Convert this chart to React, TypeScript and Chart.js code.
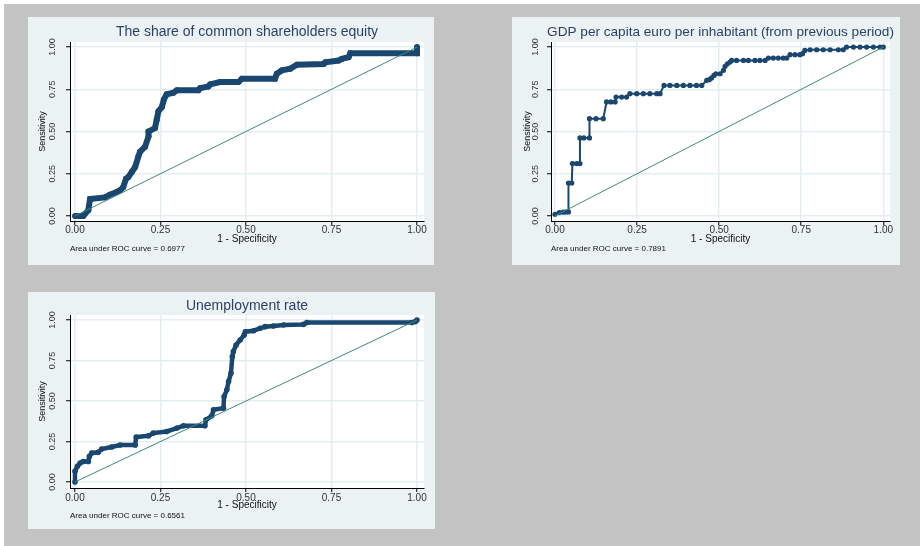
import React, { useEffect, useRef } from 'react';
import { Chart, registerables } from 'chart.js';

Chart.register(...registerables);

const FONT = '"Liberation Sans", Arial, Helvetica, sans-serif';

const TICK_VALUES = [0, 0.25, 0.5, 0.75, 1];
const TICK_LABELS = ['0.00', '0.25', '0.50', '0.75', '1.00'];
const X_TITLE = '1 - Specificity';
const Y_TITLE = 'Sensitivity';
const REF_LINE = [0, 1];

const TITLES = [
  'The share of common shareholders equity',
  'GDP per capita euro per inhabitant (from previous period)',
  'Unemployment rate',
];
const AUC_VALUES = ['0.6977', '0.7891', '0.6561'];

const EQUITY_FPR = [0, 0.024, 0.039, 0.044, 0.088, 0.102, 0.122, 0.132, 0.141, 0.149, 0.156, 0.166, 0.176, 0.185, 0.19, 0.205, 0.215, 0.215, 0.234, 0.239, 0.244, 0.254, 0.26, 0.268, 0.288, 0.298, 0.361, 0.366, 0.39, 0.395, 0.424, 0.478, 0.488, 0.585, 0.59, 0.605, 0.63, 0.649, 0.727, 0.732, 0.771, 0.78, 0.8, 0.805, 1.0, 1.0];
const EQUITY_TPR = [0, 0, 0.034, 0.1, 0.11, 0.126, 0.142, 0.152, 0.17, 0.22, 0.23, 0.26, 0.29, 0.35, 0.38, 0.41, 0.47, 0.5, 0.52, 0.57, 0.62, 0.645, 0.69, 0.72, 0.73, 0.744, 0.744, 0.757, 0.767, 0.779, 0.793, 0.793, 0.813, 0.813, 0.842, 0.862, 0.872, 0.895, 0.9, 0.91, 0.92, 0.93, 0.94, 0.964, 0.964, 1.0];

const GDP_FPR = [0, 0.013, 0.025, 0.034, 0.041, 0.041, 0.051, 0.053, 0.066, 0.076, 0.076, 0.088, 0.105, 0.105, 0.125, 0.147, 0.157, 0.17, 0.183, 0.186, 0.203, 0.218, 0.228, 0.249, 0.269, 0.289, 0.31, 0.32, 0.332, 0.35, 0.371, 0.391, 0.411, 0.431, 0.447, 0.462, 0.47, 0.477, 0.484, 0.49, 0.503, 0.513, 0.518, 0.525, 0.533, 0.538, 0.553, 0.574, 0.589, 0.609, 0.624, 0.64, 0.65, 0.665, 0.68, 0.695, 0.706, 0.716, 0.731, 0.746, 0.754, 0.761, 0.777, 0.797, 0.817, 0.838, 0.863, 0.878, 0.888, 0.909, 0.929, 0.949, 0.97, 0.99, 1.0];
const GDP_TPR = [0.01, 0.02, 0.022, 0.024, 0.024, 0.195, 0.195, 0.31, 0.31, 0.31, 0.462, 0.462, 0.462, 0.576, 0.576, 0.576, 0.675, 0.675, 0.675, 0.704, 0.704, 0.704, 0.724, 0.724, 0.724, 0.724, 0.724, 0.724, 0.773, 0.773, 0.773, 0.773, 0.773, 0.773, 0.773, 0.803, 0.807, 0.817, 0.832, 0.842, 0.842, 0.862, 0.886, 0.901, 0.911, 0.921, 0.921, 0.921, 0.921, 0.921, 0.921, 0.921, 0.935, 0.935, 0.935, 0.935, 0.935, 0.955, 0.955, 0.955, 0.961, 0.98, 0.984, 0.984, 0.984, 0.984, 0.984, 0.984, 1.0, 1.0, 1.0, 1.0, 1.0, 1.0, 1.0];

const UNEMP_FPR = [0, 0, 0.007, 0.015, 0.024, 0.039, 0.042, 0.049, 0.068, 0.078, 0.107, 0.132, 0.176, 0.179, 0.215, 0.229, 0.268, 0.298, 0.317, 0.38, 0.383, 0.4, 0.405, 0.434, 0.436, 0.444, 0.449, 0.456, 0.46, 0.463, 0.471, 0.483, 0.495, 0.498, 0.522, 0.541, 0.556, 0.58, 0.61, 0.668, 0.678, 0.985, 0.995, 1.0];
const UNEMP_TPR = [0, 0.066, 0.097, 0.117, 0.127, 0.127, 0.158, 0.179, 0.183, 0.203, 0.216, 0.228, 0.228, 0.277, 0.285, 0.302, 0.312, 0.333, 0.347, 0.347, 0.384, 0.409, 0.446, 0.456, 0.528, 0.569, 0.62, 0.671, 0.774, 0.805, 0.846, 0.877, 0.908, 0.928, 0.934, 0.949, 0.959, 0.963, 0.969, 0.973, 0.984, 0.984, 0.99, 1.0];

const NAVY = '#1a476f';
const REF_COLOR = '#3f8a78';
const GRID = '#e4edef';
const PANEL_BG = '#eaf2f3';
const TITLE_COLOR = '#2e3f66';

type PanelSpec = {
  title: string;
  titleSize: number;
  note: string;
  fpr: number[];
  tpr: number[];
  frame: { left: number; top: number; w: number; h: number };
  area: { left: number; right: number; top: number; bottom: number };
  xRange: [number, number];
  yRange: [number, number];
  titleY: number;
  noteY: number;
  xh: number;
  xTickPad: number;
  yTickPad: number;
  yTitlePad: number;
  lineWidth: number;
  pointRadius: number;
};

function Panel({ spec }: { spec: PanelSpec }) {
  const ref = useRef<HTMLCanvasElement>(null);
  useEffect(() => {
    const canvas = ref.current;
    if (!canvas) return;
    const s = spec;
    const decor = {
      id: 'panelDecor',
      beforeDraw(chart: any) {
        const { ctx, chartArea: a } = chart;
        ctx.save();
        ctx.fillStyle = PANEL_BG;
        ctx.fillRect(0, 0, chart.width, chart.height);
        ctx.fillStyle = '#ffffff';
        ctx.fillRect(a.left, a.top, a.right - a.left, a.bottom - a.top);
        ctx.restore();
      },
      afterDraw(chart: any) {
        const { ctx, chartArea: a } = chart;
        ctx.save();
        ctx.fillStyle = TITLE_COLOR;
        ctx.font = `${s.titleSize}px ${FONT}`;
        ctx.textAlign = 'center';
        ctx.textBaseline = 'middle';
        ctx.fillText(s.title, (a.left + a.right) / 2, s.titleY);
        ctx.fillStyle = '#111';
        ctx.font = `8px ${FONT}`;
        ctx.textAlign = 'left';
        ctx.fillText(s.note, a.left, s.noteY);
        ctx.restore();
      },
    };
    const tickLabel = (v: any) => {
      const i = TICK_VALUES.indexOf(Number(v));
      return i >= 0 ? TICK_LABELS[i] : '';
    };
    const setTicks = (scale: any) => {
      scale.ticks = TICK_VALUES.map((v) => ({ value: v }));
    };
    const chart = new Chart(canvas, {
      type: 'scatter',
      data: {
        datasets: [
          {
            data: REF_LINE.map((v) => ({ x: v, y: v })),
            showLine: true,
            borderColor: REF_COLOR,
            borderWidth: 1,
            pointRadius: 0,
          },
          {
            data: s.fpr.map((x, i) => ({ x, y: s.tpr[i] })),
            showLine: true,
            borderColor: NAVY,
            backgroundColor: NAVY,
            borderWidth: s.lineWidth,
            pointRadius: s.pointRadius,
            pointBorderWidth: 0,
            pointBackgroundColor: NAVY,
          },
        ],
      },
      options: {
        animation: false,
        responsive: false,
        maintainAspectRatio: false,
        devicePixelRatio: 1,
        layout: {
          padding: {
            left: 0,
            top: s.area.top,
            right: s.frame.w - s.area.right,
            bottom: s.frame.h - s.area.bottom - s.xh,
          },
        },
        plugins: {
          legend: { display: false },
          title: { display: false },
          tooltip: { enabled: false },
        },
        scales: {
          x: {
            type: 'linear',
            min: s.xRange[0],
            max: s.xRange[1],
            afterBuildTicks: setTicks,
            afterFit: (scale: any) => {
              scale.height = s.xh;
            },
            ticks: {
              callback: tickLabel,
              autoSkip: false,
              maxRotation: 0,
              padding: s.xTickPad,
              color: '#333',
              font: { family: FONT, size: 10, lineHeight: 1 },
            },
            grid: { color: GRID, lineWidth: 1.5, tickLength: 4, tickColor: '#000', tickWidth: 1 },
            border: { display: true, color: '#000', width: 1 },
            title: {
              display: true,
              text: X_TITLE,
              color: '#111',
              font: { family: FONT, size: 10, lineHeight: 1 },
              padding: { top: 0, bottom: 0 },
            },
          },
          y: {
            type: 'linear',
            min: s.yRange[0],
            max: s.yRange[1],
            afterBuildTicks: setTicks,
            afterFit: (scale: any) => {
              scale.width = s.area.left;
            },
            ticks: {
              callback: tickLabel,
              autoSkip: false,
              minRotation: 90,
              maxRotation: 90,
              crossAlign: 'center',
              padding: s.yTickPad,
              color: '#333',
              font: { family: FONT, size: 9, lineHeight: 1 },
            },
            grid: { color: GRID, lineWidth: 1.5, tickLength: 4, tickColor: '#000', tickWidth: 1 },
            border: { display: true, color: '#000', width: 1 },
            title: {
              display: true,
              text: Y_TITLE,
              color: '#111',
              font: { family: FONT, size: 9, lineHeight: 1 },
              padding: { top: s.yTitlePad, bottom: 0 },
            },
          },
        },
      },
      plugins: [decor],
    } as any);
    return () => chart.destroy();
  }, [spec]);

  return (
    <canvas
      ref={ref}
      width={spec.frame.w}
      height={spec.frame.h}
      style={{
        position: 'absolute',
        left: spec.frame.left,
        top: spec.frame.top,
        width: spec.frame.w,
        height: spec.frame.h,
        display: 'block',
      }}
    />
  );
}

const SPECS: PanelSpec[] = [
  {
    title: TITLES[0],
    titleSize: 14,
    note: `Area under ROC curve = ${AUC_VALUES[0]}`,
    fpr: EQUITY_FPR,
    tpr: EQUITY_TPR,
    frame: { left: 28, top: 17, w: 406, h: 248 },
    area: { left: 42, right: 396, top: 25, bottom: 204 },
    xRange: [-0.0146, 1.0205],
    yRange: [-0.03, 1.03],
    titleY: 15,
    noteY: 232,
    xh: 23,
    xTickPad: 0,
    yTickPad: 5,
    yTitlePad: 10,
    lineWidth: 6,
    pointRadius: 3,
  },
  {
    title: TITLES[1],
    titleSize: 13.6,
    note: `Area under ROC curve = ${AUC_VALUES[1]}`,
    fpr: GDP_FPR,
    tpr: GDP_TPR,
    frame: { left: 512, top: 17, w: 388, h: 248 },
    area: { left: 39, right: 378, top: 25, bottom: 204 },
    xRange: [-0.0122, 1.0204],
    yRange: [-0.03, 1.03],
    titleY: 15,
    noteY: 232,
    xh: 23,
    xTickPad: 0,
    yTickPad: 3,
    yTitlePad: 11.5,
    lineWidth: 2,
    pointRadius: 2.6,
  },
  {
    title: TITLES[2],
    titleSize: 14,
    note: `Area under ROC curve = ${AUC_VALUES[2]}`,
    fpr: UNEMP_FPR,
    tpr: UNEMP_TPR,
    frame: { left: 28, top: 292, w: 407, h: 237 },
    area: { left: 42, right: 396, top: 23, bottom: 196 },
    xRange: [-0.0146, 1.0205],
    yRange: [-0.037, 1.031],
    titleY: 14,
    noteY: 224,
    xh: 22,
    xTickPad: 1,
    yTickPad: 5,
    yTitlePad: 10,
    lineWidth: 4.5,
    pointRadius: 2.8,
  },
];

export default function App() {
  return (
    <div
      style={{
        position: 'fixed',
        left: 0,
        top: 0,
        width: 920,
        height: 546,
        background: '#ffffff',
        overflow: 'hidden',
      }}
    >
      <div
        style={{
          position: 'absolute',
          left: 4,
          top: 4,
          width: 916,
          height: 542,
          background: '#c3c3c3',
        }}
      />
      {SPECS.map((spec, i) => (
        <Panel key={i} spec={spec} />
      ))}
    </div>
  );
}
